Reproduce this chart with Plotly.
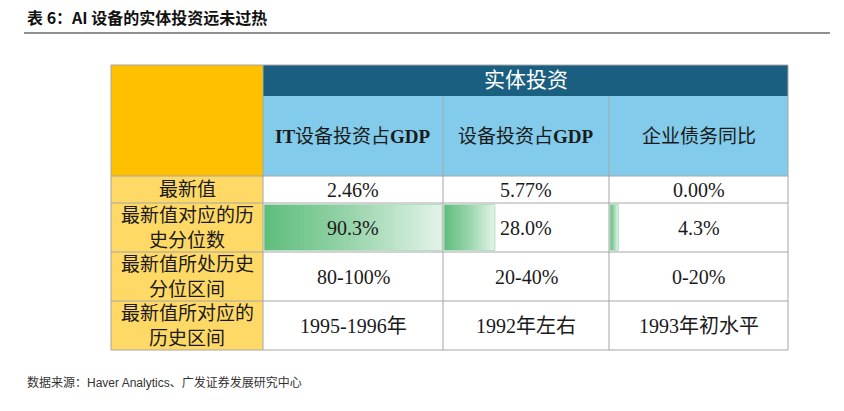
import numpy as np
import plotly.graph_objects as go

# ---------------- data ----------------
title_text = "表 6：AI 设备的实体投资远未过热"
source_text = "数据来源：Haver Analytics、广发证券发展研究中心"
group_header = "实体投资"
columns = ["<b>IT</b>设备投资占<b>GDP</b>", "设备投资占<b>GDP</b>", "企业债务同比"]
row_labels = ["最新值", "最新值对应的历史分位数", "最新值所处历史分位区间", "最新值所对应的历史区间"]
latest_value = ["2.46%", "5.77%", "0.00%"]
pct_rank = [90.3, 28.0, 4.3]
pct_range = ["80-100%", "20-40%", "0-20%"]
hist_period = ["1995-1996年", "1992年左右", "1993年初水平"]

# ---------------- layout constants ----------------
W, H = 844, 411
x_edges = [111, 263, 443, 609, 788]
y_top, y_group, y_head = 65, 96, 176
row_edges = [176, 203, 252, 301, 350]

C_CORNER = "#FFC000"
C_LABEL = "#FFD966"
C_DARK = "#1A5E80"
C_LIGHT = "#82CBEA"
C_BORDER = "#A6A6A6"
C_TEXT = "#1a1a1a"
SERIF = "Liberation Serif, Times New Roman, Noto Sans CJK SC, serif"
SANS = "Liberation Sans, Arial, Noto Sans CJK SC, sans-serif"
HEI = "Noto Sans CJK SC, sans-serif"

fig = go.Figure()
shapes = []
ann = []


def rect(x0, y0, x1, y1, fill, layer="below", line=None):
    shapes.append(dict(type="rect", xref="x", yref="y", x0=x0, y0=y0, x1=x1, y1=y1,
                       fillcolor=fill, line=line or dict(width=0), layer=layer))


def hline(x0, x1, y, color=C_BORDER, width=1):
    shapes.append(dict(type="line", xref="x", yref="y", x0=x0, x1=x1, y0=y, y1=y,
                       line=dict(color=color, width=width), layer="above"))


def vline(x, y0, y1, color=C_BORDER, width=1):
    shapes.append(dict(type="line", xref="x", yref="y", x0=x, x1=x, y0=y0, y1=y1,
                       line=dict(color=color, width=width), layer="above"))


def text(x, y, s, size, color=C_TEXT, family=SERIF, xanchor="center"):
    ann.append(dict(x=x, y=y, xref="x", yref="y", text=s, showarrow=False,
                    xanchor=xanchor, yanchor="middle",
                    font=dict(size=size, color=color, family=family)))


# backgrounds
rect(x_edges[0], y_top, x_edges[1], y_head, C_CORNER)
rect(x_edges[1], y_top, x_edges[-1], y_group, C_DARK)
rect(x_edges[1], y_group, x_edges[-1], y_head, C_LIGHT)
rect(x_edges[0], y_head, x_edges[1], row_edges[-1], C_LABEL)
rect(x_edges[1], y_head, x_edges[-1], row_edges[-1], "white")

# data bars (gradient) in row 2
bar_row = 2
vmax = max(pct_rank)
by0, by1 = row_edges[bar_row - 1] + 1.5, row_edges[bar_row] - 1.5
N = 80
for j, v in enumerate(pct_rank):
    cx0, cx1 = x_edges[j + 1], x_edges[j + 2]
    bx0 = cx0 + 1
    bx1 = bx0 + v / vmax * (cx1 - cx0 - 2)
    xs = np.linspace(bx0, bx1, N + 1)
    fig.add_trace(go.Heatmap(
        x=xs, y=[by0, by1], z=[np.linspace(0, 1, N)],
        colorscale=[[0, "#5FBD7C"], [0.5, "#9AD5AC"], [1, "#E3F3E8"]],
        zmin=0, zmax=1, showscale=False, hoverinfo="skip"))
    shapes.append(dict(type="rect", xref="x", yref="y", x0=bx0, x1=bx1, y0=by0, y1=by1,
                       line=dict(color="#B5DFC2", width=1), fillcolor="rgba(0,0,0,0)",
                       layer="above"))

# borders
for y in row_edges:
    hline(x_edges[0], x_edges[-1], y)
hline(x_edges[0], x_edges[-1], y_top)
for x in x_edges[1:-1]:
    vline(x, y_group if x != x_edges[1] else y_top, row_edges[-1])
vline(x_edges[0], y_top, row_edges[-1])
vline(x_edges[-1], y_top, row_edges[-1])

# header texts
text((x_edges[1] + x_edges[-1]) / 2, (y_top + y_group) / 2 - 1, group_header, 21, color="white")
for j, c in enumerate(columns):
    text((x_edges[j + 1] + x_edges[j + 2]) / 2, (y_group + y_head) / 2, c, 19)

# row labels, wrapped at 7 characters, 25 px line pitch
lab_x = (x_edges[0] + x_edges[1]) / 2
for i, lab in enumerate(row_labels):
    lines = [lab[k:k + 7] for k in range(0, len(lab), 7)]
    yc = (row_edges[i] + row_edges[i + 1]) / 2
    n = len(lines)
    for k, ln in enumerate(lines):
        text(lab_x, yc + (k - (n - 1) / 2) * 25, ln, 19)

rows = [latest_value, [f"{v:.1f}%" for v in pct_rank], pct_range, hist_period]
for i, vals in enumerate(rows):
    yc = (row_edges[i] + row_edges[i + 1]) / 2
    for j, v in enumerate(vals):
        text((x_edges[j + 1] + x_edges[j + 2]) / 2, yc, v, 20)

# title, rule and source
text(25, 17, "<b>" + title_text + "</b>", 16, color="#111", family=HEI, xanchor="left")
shapes.append(dict(type="line", xref="x", yref="y", x0=24, x1=830, y0=33, y1=33,
                   line=dict(color="#222", width=1.2), layer="above"))
text(25, 382, source_text, 12, color="#333", family=SANS, xanchor="left")

fig.update_layout(
    width=W, height=H, margin=dict(l=0, r=0, t=0, b=0),
    paper_bgcolor="white", plot_bgcolor="white",
    xaxis=dict(range=[0, W], visible=False, fixedrange=True),
    yaxis=dict(range=[H, 0], visible=False, fixedrange=True),
    shapes=shapes, annotations=ann, showlegend=False,
)
fig.write_html("out.html", config={"displayModeBar": False},
               post_script="document.body.style.margin='0';document.body.style.overflow='hidden';")
